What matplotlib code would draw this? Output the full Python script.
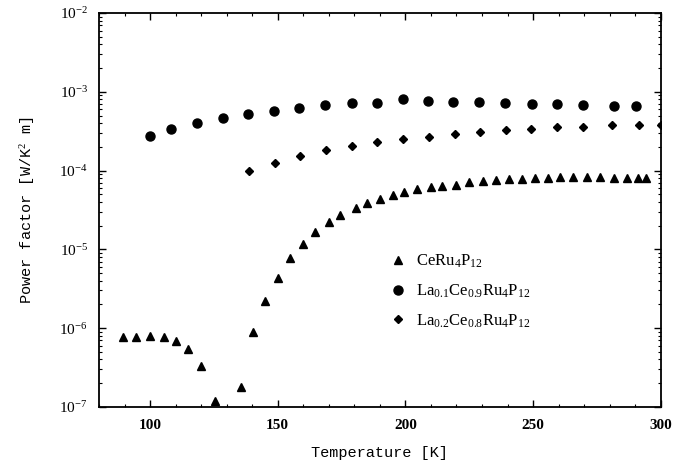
import matplotlib
matplotlib.use("Agg")
import matplotlib.pyplot as plt
from matplotlib.ticker import LogLocator, FixedLocator, MultipleLocator

# CeRu4P12 (triangles)
T_ce = [89.5, 94.5, 100, 105.5, 110, 115, 120, 125.5, 135.5, 140.5, 145, 150, 155, 160,
        164.5, 170, 174.5, 180.5, 185, 190, 195, 199.6, 204.6, 209.9, 214.5, 219.8, 225,
        230.3, 235.3, 240.4, 245.5, 250.7, 255.7, 260.7, 265.7, 271, 276.3, 281.5, 286.7,
        290.9, 294.2]
PF_ce = [7.7e-7, 7.8e-7, 8.0e-7, 7.7e-7, 6.8e-7, 5.4e-7, 3.3e-7, 1.17e-7, 1.76e-7, 8.8e-7,
         2.23e-6, 4.37e-6, 7.7e-6, 1.17e-5, 1.66e-5, 2.21e-5, 2.71e-5, 3.35e-5, 3.85e-5,
         4.4e-5, 4.9e-5, 5.3e-5, 5.78e-5, 6.13e-5, 6.43e-5, 6.56e-5, 7.1e-5, 7.45e-5, 7.6e-5,
         7.82e-5, 7.88e-5, 7.97e-5, 8.13e-5, 8.22e-5, 8.22e-5, 8.22e-5, 8.22e-5, 8.13e-5,
         8.05e-5, 8.05e-5, 8.05e-5]

# La0.1Ce0.9Ru4P12 (circles)
T_la1 = [100, 108.2, 118.3, 128.5, 138.5, 148.6, 158.5, 168.6, 178.9, 188.8, 198.9, 208.8,
         218.8, 228.9, 239.1, 249.4, 259.4, 269.6, 281.7, 290.5]
PF_la1 = [2.75e-4, 3.34e-4, 3.98e-4, 4.6e-4, 5.27e-4, 5.7e-4, 6.3e-4, 6.8e-4, 7.15e-4, 7.27e-4,
          8.03e-4, 7.7e-4, 7.36e-4, 7.36e-4, 7.28e-4, 6.93e-4, 6.93e-4, 6.75e-4, 6.6e-4, 6.55e-4]

# La0.2Ce0.8Ru4P12 (diamonds)
T_la2 = [138.7, 148.9, 158.8, 168.8, 179, 188.8, 199.1, 209.2, 219.4, 229.1, 239.5, 249.1,
         259.4, 269.7, 280.8, 291.6, 300]
PF_la2 = [1.0e-4, 1.26e-4, 1.53e-4, 1.82e-4, 2.07e-4, 2.29e-4, 2.49e-4, 2.69e-4, 2.89e-4,
          3.12e-4, 3.28e-4, 3.37e-4, 3.54e-4, 3.6e-4, 3.79e-4, 3.79e-4, 3.79e-4]

labels = [r"CeRu$_4$P$_{12}$", r"La$_{0.1}$Ce$_{0.9}$Ru$_4$P$_{12}$",
          r"La$_{0.2}$Ce$_{0.8}$Ru$_4$P$_{12}$"]
x_ticks = [100, 150, 200, 250, 300]

plt.rcParams['mathtext.fontset'] = 'custom'
plt.rcParams['mathtext.rm'] = 'Liberation Serif'
plt.rcParams['mathtext.it'] = 'Liberation Serif:italic'
plt.rcParams['mathtext.bf'] = 'Liberation Serif:bold'

fig = plt.figure(figsize=(6.97, 4.66), dpi=100)
ax = fig.add_axes([0.142, 0.127, 0.806, 0.845])

ax.plot(T_ce, PF_ce, linestyle='none', marker='^', ms=5.5, color='black', label=labels[0])
ax.plot(T_la1, PF_la1, linestyle='none', marker='o', ms=6.5, color='black', label=labels[1])
ax.plot(T_la2, PF_la2, linestyle='none', marker='D', ms=4.2, color='black', label=labels[2])

ax.set_yscale('log')
ax.set_xlim(80, 300)
ax.set_ylim(1e-7, 1e-2)
ax.xaxis.set_major_locator(FixedLocator(x_ticks))
ax.xaxis.set_minor_locator(MultipleLocator(10))
ax.yaxis.set_major_locator(LogLocator(base=10, numticks=10))
ax.yaxis.set_minor_locator(LogLocator(base=10, subs=range(2, 10), numticks=20))

ax.tick_params(which='both', direction='in', top=True, right=True)
ax.tick_params(axis='x', labelsize=11, pad=9)
ax.tick_params(axis='y', labelsize=11, pad=8)
ax.tick_params(which='major', length=5, width=1)
ax.tick_params(which='minor', length=2.5, width=0.8)
for lab in ax.get_xticklabels():
    lab.set_family('Liberation Serif')
    lab.set_fontweight('bold')
for lab in ax.get_yticklabels():
    lab.set_family('Liberation Serif')
for sp in ax.spines.values():
    sp.set_linewidth(1.3)

ax.set_xlabel("Temperature [K]", family='Liberation Mono', fontsize=11, labelpad=10)
ax.set_ylabel(r"Power factor [W/K$^2$ m]", family='Liberation Mono', fontsize=11, labelpad=16)

ax.legend(loc='upper left', bbox_to_anchor=(0.49, 0.43), frameon=False,
          prop={'family': 'Liberation Serif', 'size': 12}, handletextpad=0.6,
          labelspacing=0.75, handlelength=1.0)

fig.savefig("out.png", dpi=100)
